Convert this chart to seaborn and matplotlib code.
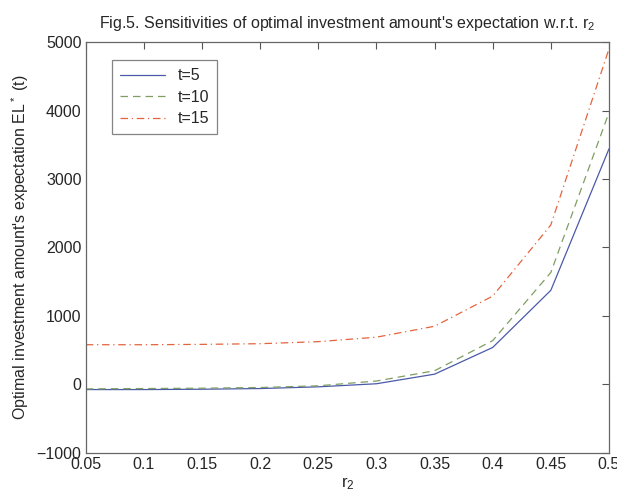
import pandas as pd
import matplotlib
matplotlib.use("Agg")
import matplotlib.pyplot as plt
import seaborn as sns

# values
r2 = [0.05, 0.10, 0.15, 0.20, 0.25, 0.30, 0.35, 0.40, 0.45, 0.50]
el_t5 = [-75, -75, -70, -60, -35, 10, 150, 540, 1375, 3440]
el_t10 = [-65, -60, -55, -45, -20, 50, 200, 640, 1635, 3970]
el_t15 = [580, 580, 585, 595, 625, 690, 850, 1290, 2330, 4900]
series_names = ["t=5", "t=10", "t=15"]

df = pd.concat([
    pd.DataFrame({"r2": r2, "EL": vals, "series": name})
    for name, vals in zip(series_names, [el_t5, el_t10, el_t15])
])

sns.set_style("white")
plt.rcParams["font.family"] = ["Liberation Sans", "DejaVu Sans"]
plt.rcParams["mathtext.fontset"] = "custom"
plt.rcParams["mathtext.rm"] = "Liberation Sans"
plt.rcParams["mathtext.it"] = "Liberation Sans"

fig = plt.figure(figsize=(6.17, 5.01), dpi=100)
ax = fig.add_axes([0.139, 0.096, 0.848, 0.82])

palette = {"t=5": "#4b5aa8", "t=10": "#7f9e62", "t=15": "#e4643e"}
dashes = {"t=5": "", "t=10": (6, 4), "t=15": (6, 3, 1, 3)}
sns.lineplot(data=df, x="r2", y="EL", hue="series", style="series",
             palette=palette, dashes=dashes, linewidth=0.9, ax=ax)

ax.set_xlim(0.05, 0.5)
ax.set_ylim(-1000, 5000)
ax.set_xticks([0.05, 0.1, 0.15, 0.2, 0.25, 0.3, 0.35, 0.4, 0.45, 0.5])
ax.set_xticklabels(["0.05", "0.1", "0.15", "0.2", "0.25", "0.3", "0.35", "0.4", "0.45", "0.5"])
ax.set_yticks(range(-1000, 5001, 1000))
ax.tick_params(direction="in", length=5, top=True, right=True, labelsize=11.5,
               color="#555555", width=0.8, pad=3)
for sp in ax.spines.values():
    sp.set_color("#666666")
    sp.set_linewidth(0.9)

ax.set_xlabel("r$_2$", fontsize=12, labelpad=2)
ax.set_ylabel("Optimal investment amount's expectation EL$^*$ (t)", fontsize=11.5, labelpad=4)
ax.set_title("Fig.5. Sensitivities of optimal investment amount's expectation w.r.t. r$_2$",
             fontsize=11.5, pad=10)

leg = ax.legend(loc="upper left", bbox_to_anchor=(0.035, 0.975), fontsize=11.5,
                frameon=True, fancybox=False, edgecolor="#666666",
                handlelength=2.8, borderpad=0.5, labelspacing=0.4)
leg.get_frame().set_linewidth(0.9)

fig.savefig("out.png", dpi=100)
